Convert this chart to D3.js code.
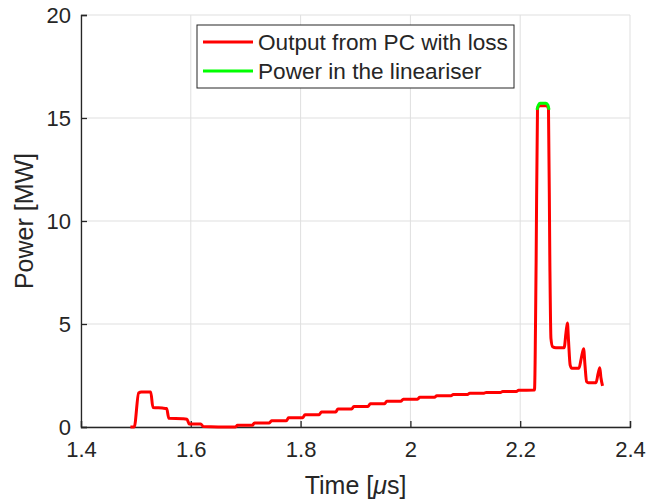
<!DOCTYPE html>
<html>
<meta charset="utf-8">
<style>
  body { margin: 0; background: #fff; }
  text { font-family: "Liberation Sans", Arial, sans-serif; fill: #262626; }
</style>
<body>
<div id="chart"></div>
<script src="https://d3js.org/d3.v7.min.js"></script>
<script>
  // time [us] and power [MW]
  let redTime = [1.490, 1.497, 1.505, 1.510, 1.527, 1.531, 1.548, 1.556, 1.560, 1.585, 1.593, 1.597, 1.618, 1.623, 1.650, 1.681,
                 1.685, 1.712, 1.716, 1.743, 1.747, 1.774, 1.778, 1.804, 1.808, 1.834, 1.838, 1.864, 1.868, 1.893, 1.897,
                 1.923, 1.927, 1.953, 1.957, 1.983, 1.987, 2.013, 2.017, 2.044, 2.048, 2.074, 2.078, 2.104, 2.108,
                 2.134, 2.138, 2.164, 2.168, 2.193, 2.197, 2.226, 2.229, 2.2315, 2.235, 2.248, 2.2515, 2.254, 2.256, 2.259,
                 2.265, 2.280, 2.2835, 2.286, 2.288, 2.291, 2.294, 2.307, 2.311, 2.3155, 2.318, 2.321, 2.324, 2.338,
                 2.342, 2.345, 2.347, 2.350];
  let redPower = [0, 0, 1.65, 1.7, 1.7, 0.95, 0.92, 0.9, 0.42, 0.40, 0.38, 0.15, 0.15, 0.02, 0.0, 0.0,
                  0.08, 0.08, 0.2, 0.2, 0.3, 0.3, 0.45, 0.45, 0.6, 0.6, 0.73, 0.73, 0.87, 0.87, 1.0,
                  1.0, 1.13, 1.13, 1.25, 1.25, 1.35, 1.35, 1.44, 1.44, 1.52, 1.52, 1.58, 1.58, 1.64,
                  1.64, 1.68, 1.68, 1.72, 1.72, 1.78, 1.8, 8, 15.45, 15.6, 15.6, 15.45, 8, 4.3, 3.9,
                  3.85, 3.85, 4.6, 5.05, 4.2, 3.0, 2.85, 2.85, 3.3, 3.8, 3.0, 2.2, 2.15, 2.15,
                  2.6, 2.88, 2.4, 2.0];
  let greenTime = [2.2305, 2.233, 2.236, 2.247, 2.2505, 2.2525];
  let greenPower = [15.4, 15.62, 15.72, 15.72, 15.62, 15.4];

  let xTicks = [1.4, 1.6, 1.8, 2, 2.2, 2.4];
  let yTicks = [0, 5, 10, 15, 20];
  let seriesNames = ["Output from PC with loss", "Power in the lineariser"];
  let seriesColors = ["#ff0000", "#00ff00"];

  let totalWidth = 650, totalHeight = 503;
  let margin = {top: 15, right: 20, bottom: 76, left: 81};
  let width = totalWidth - margin.left - margin.right,
      height = totalHeight - margin.top - margin.bottom;

  const svg = d3.select("#chart").append("svg")
      .attr("width", totalWidth).attr("height", totalHeight);
  const g = svg.append("g").attr("transform", "translate(" + margin.left + "," + margin.top + ")");

  let x = d3.scaleLinear().domain([1.4, 2.4]).range([0, width]);
  let y = d3.scaleLinear().domain([0, 20]).range([height, 0]);

  // grid
  g.selectAll(".gx").data(xTicks).enter().append("line")
    .attr("x1", d => x(d)).attr("x2", d => x(d))
    .attr("y1", 0).attr("y2", height)
    .attr("stroke", "#dfdfdf").attr("stroke-width", 1);
  g.selectAll(".gy").data(yTicks).enter().append("line")
    .attr("x1", 0).attr("x2", width)
    .attr("y1", d => y(d)).attr("y2", d => y(d))
    .attr("stroke", "#dfdfdf").attr("stroke-width", 1);

  // axes, ticks pointing inward
  let xAxis = g.append("g").attr("transform", "translate(0," + height + ")")
    .call(d3.axisBottom(x).tickValues(xTicks).tickSize(-6).tickPadding(14).tickFormat(d3.format("")));
  let yAxis = g.append("g")
    .call(d3.axisLeft(y).tickValues(yTicks).tickSize(-6).tickPadding(10));
  [xAxis, yAxis].forEach(a => {
    a.select(".domain").attr("stroke", "#262626").attr("stroke-width", 1.3);
    a.selectAll(".tick line").attr("stroke", "#262626").attr("stroke-width", 1.3);
    a.selectAll(".tick text").attr("fill", "#262626")
      .style("font-family", "Liberation Sans, Arial, sans-serif").style("font-size", "22px");
  });
  xAxis.selectAll(".tick text").attr("dy", "0.72em");

  // lines
  let line = d3.line().x(d => x(d[0])).y(d => y(d[1])).curve(d3.curveMonotoneX);
  let redData = d3.zip(redTime, redPower);
  let greenData = d3.zip(greenTime, greenPower);

  g.append("path").datum(redData)
    .attr("d", line).attr("fill", "none")
    .attr("stroke", seriesColors[0]).attr("stroke-width", 3)
    .attr("stroke-linejoin", "round");
  g.append("path").datum(greenData)
    .attr("d", line).attr("fill", "none")
    .attr("stroke", seriesColors[1]).attr("stroke-width", 3)
    .attr("stroke-linejoin", "round");

  // axis labels
  svg.append("text")
    .attr("x", margin.left + width / 2).attr("y", 494)
    .attr("text-anchor", "middle").style("font-size", "25px")
    .html('Time [<tspan font-style="italic">\u03bc</tspan>s]');
  svg.append("text")
    .attr("transform", "translate(33," + (margin.top + height / 2) + ") rotate(-90)")
    .attr("text-anchor", "middle").style("font-size", "25px")
    .text("Power [MW]");

  // legend
  let legend = svg.append("g").attr("transform", "translate(197,25)");
  legend.append("rect").attr("width", 317).attr("height", 63)
    .attr("fill", "#fff").attr("stroke", "#262626").attr("stroke-width", 1);
  seriesNames.forEach((name, i) => {
    let ly = 17 + i * 29;
    legend.append("line").attr("x1", 6).attr("x2", 56).attr("y1", ly).attr("y2", ly)
      .attr("stroke", seriesColors[i]).attr("stroke-width", 3);
    legend.append("text").attr("x", 61).attr("y", ly).attr("dy", "0.36em")
      .style("font-size", "22.6px").text(name);
  });
</script>
</body>
</html>
